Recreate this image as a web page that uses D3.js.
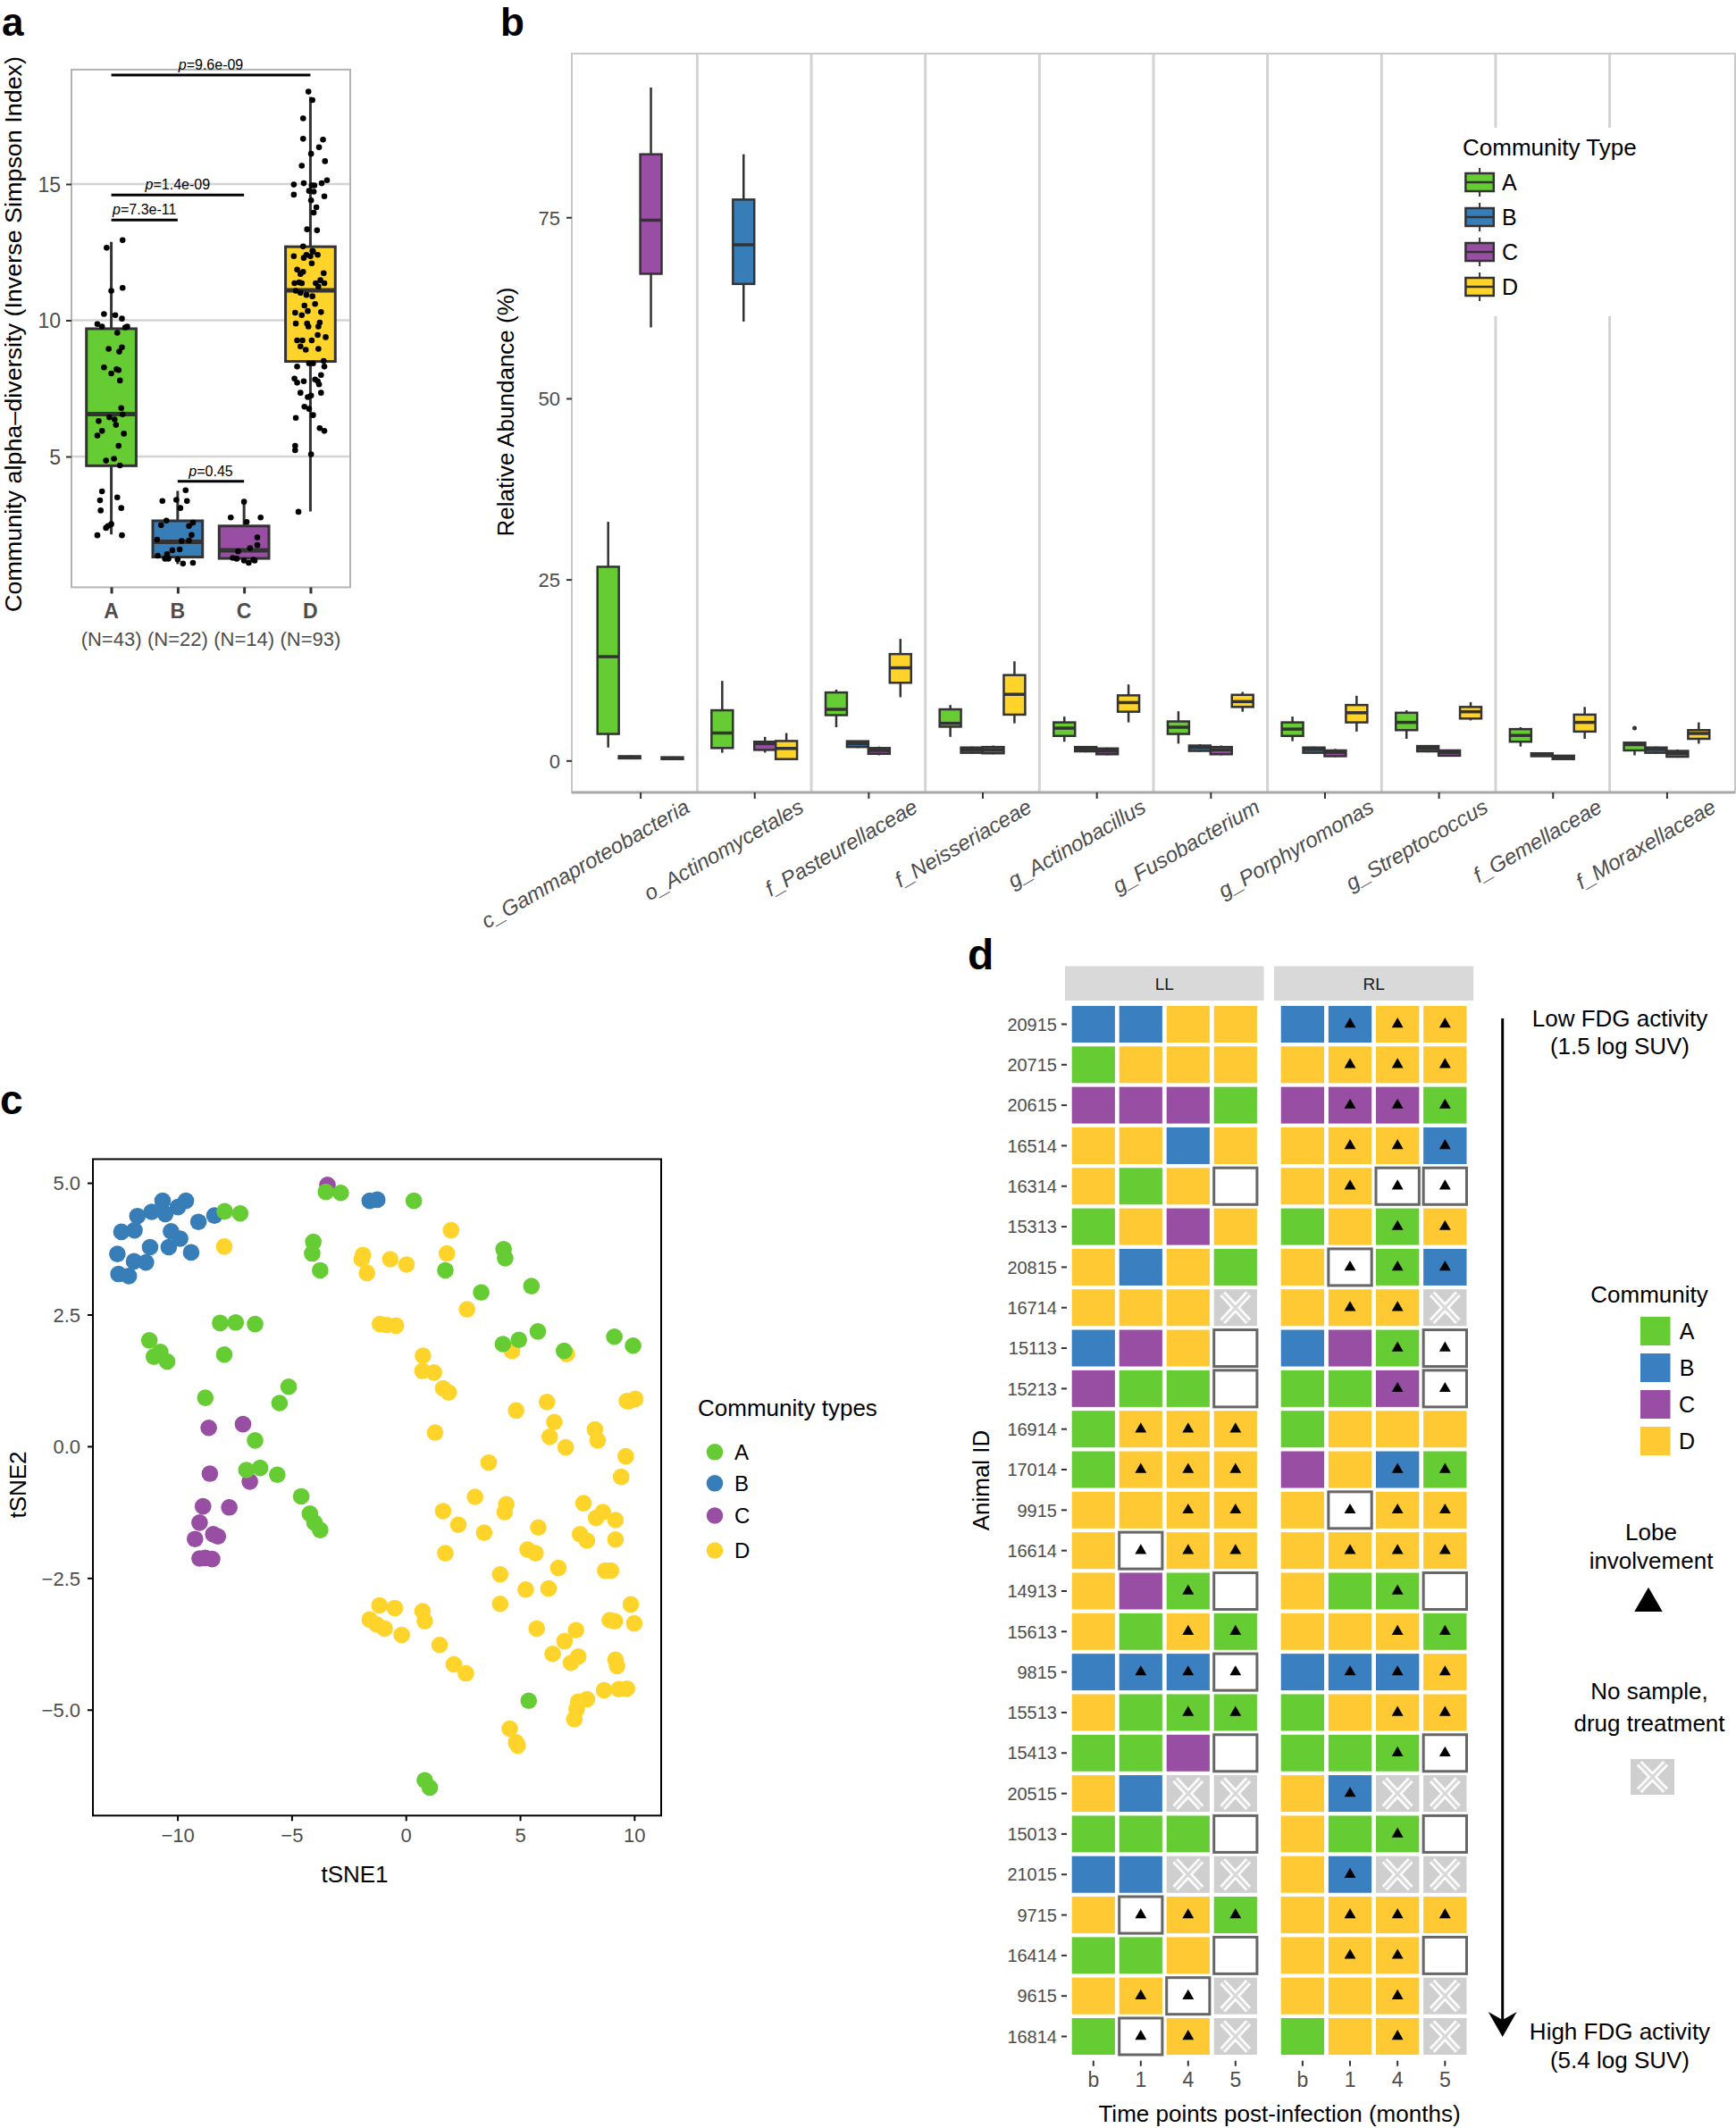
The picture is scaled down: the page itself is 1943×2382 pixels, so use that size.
<!DOCTYPE html>
<html><head><meta charset="utf-8">
<script src="https://cdn.jsdelivr.net/npm/d3@7"></script>
<style>
body{margin:0;background:#fff}
svg{display:block;font-family:"Liberation Sans",Arial,Helvetica,sans-serif}
</style>
</head><body>
<svg id="fig" width="1943" height="2382"></svg>
<script>
// ================= DATA =================
// ---- Panel a: alpha diversity ----
const aGroups = ["A","B","C","D"];
const aNLabels = ["(N=43)","(N=22)","(N=14)","(N=93)"];
const aLow  = [2.14, 1.05, 1.10, 2.98];
const aQ1   = [4.66, 1.31, 1.26, 8.49];
const aMed  = [6.56, 1.87, 1.56, 11.10];
const aQ3   = [9.69, 2.64, 2.45, 12.70];
const aHigh = [12.88, 3.74, 3.38, 18.20];
const aGridTicks = [5, 10, 15];
// jittered points: [x-offset in category units, value]
const aPointsA = [[-0.07,12.66],[0.17,12.94],[0.0,11.08],[0.17,11.19],[-0.11,10.23],[0.06,10.19],[0.16,10.06],[-0.21,9.86],[-0.14,9.77],[0.21,9.74],[0.24,9.77],[0.09,9.54],[-0.04,8.95],[0.16,9.01],[-0.11,8.27],[0.0,8.05],[0.08,8.20],[0.11,8.17],[0.13,7.79],[0.15,6.78],[-0.03,6.44],[0.17,6.55],[-0.19,6.30],[0.07,6.16],[-0.14,5.94],[-0.21,5.77],[0.19,5.84],[0.11,5.39],[-0.08,4.85],[0.04,4.92],[0.13,4.67],[-0.14,3.72],[0.09,3.50],[-0.17,3.39],[0.15,3.11],[-0.16,3.02],[0.0,2.52],[-0.05,2.45],[-0.08,2.38],[-0.21,2.11],[0.16,2.11],[0.05,6.36],[0.12,8.85]];
const aPointsB = [[-0.23,3.37],[-0.02,3.41],[0.12,3.76],[0.14,3.37],[0.04,3.11],[-0.25,2.48],[-0.17,2.65],[0.23,2.57],[0.17,2.45],[0.21,2.12],[-0.31,1.95],[0.06,1.90],[0.17,1.92],[-0.08,1.56],[-0.16,1.42],[0.03,1.59],[-0.19,1.25],[-0.14,1.25],[0.0,1.22],[0.08,1.07],[0.23,1.10],[-0.30,1.36]];
const aPointsC = [[0.0,3.34],[-0.2,2.76],[0.25,2.76],[0.04,2.60],[0.2,2.03],[0.2,1.75],[0.09,1.64],[-0.09,1.52],[-0.17,1.28],[-0.11,1.25],[0.0,1.18],[0.07,1.10],[0.16,1.18],[0.14,1.21]];
const aPointsD = [[-0.03,18.39],[0.03,18.08],[-0.11,17.41],[-0.11,16.66],[0.19,16.63],[0.13,16.35],[0.01,16.11],[0.22,15.84],[-0.13,15.67],[0.25,15.14],[-0.25,14.98],[-0.1,15.03],[0.02,14.95],[0.06,14.95],[0.17,15.03],[-0.02,14.75],[-0.25,14.61],[0.21,14.55],[0.01,14.40],[0.09,14.15],[0.05,13.95],[-0.05,13.34],[0.1,13.30],[-0.11,12.71],[0.04,12.52],[-0.25,12.35],[-0.1,12.29],[-0.06,12.40],[0.0,12.35],[0.02,12.09],[0.11,12.40],[0.2,11.73],[-0.11,11.78],[-0.24,11.36],[-0.17,11.39],[-0.13,11.36],[0.08,11.36],[0.15,11.47],[0.21,11.36],[-0.22,11.08],[-0.15,11.01],[-0.06,10.93],[0.03,10.88],[-0.09,10.54],[-0.04,10.34],[-0.23,10.28],[-0.13,10.19],[0.14,9.92],[-0.22,9.88],[0.12,9.77],[-0.03,9.77],[0.23,9.38],[0.11,9.46],[-0.2,9.26],[-0.12,9.26],[0.02,9.26],[-0.15,9.04],[-0.07,8.92],[0.12,8.95],[0.2,8.51],[-0.02,8.42],[0.04,8.42],[-0.24,7.86],[-0.2,7.71],[-0.1,7.76],[0.16,7.99],[0.13,7.65],[0.11,7.76],[-0.15,7.34],[0.16,7.34],[-0.04,7.18],[0.01,7.24],[-0.09,6.83],[-0.02,6.75],[0.04,6.52],[-0.22,6.42],[0.14,6.04],[0.21,5.94],[-0.23,5.39],[-0.23,5.23],[0.01,5.08],[-0.18,2.97],[-0.15,11.70],[0.07,10.60],[-0.05,9.88],[0.16,10.30],[-0.2,11.86],[0.12,11.24],[0.03,12.55],[0.21,8.30],[-0.2,8.30],[0.07,7.83],[0.05,14.72]];
const aBrackets = [
  {from:"A", to:"D", y:19.0, p:"=9.6e-09"},
  {from:"A", to:"C", y:14.6, p:"=1.4e-09"},
  {from:"A", to:"B", y:13.68, p:"=7.3e-11"},
  {from:"B", to:"C", y:4.09, p:"=0.45"}
];

// ---- Panel b: relative abundance by taxon ----
const bTaxa = ["c_Gammaproteobacteria","o_Actinomycetales","f_Pasteurellaceae","f_Neisseriaceae","g_Actinobacillus","g_Fusobacterium","g_Porphyromonas","g_Streptococcus","f_Gemellaceae","f_Moraxellaceae"];
const bYTicks = [0, 25, 50, 75];
// [lower whisker, Q1, median, Q3, upper whisker] for each taxon
const bStatsA = [[1.8,3.67,14.34,26.75,32.96],[1.07,1.73,3.8,6.94,11.0],[4.6,6.27,7.07,9.4,9.8],[3.27,4.67,5.14,7.07,7.67],[2.6,3.4,4.47,5.27,6.07],[2.33,3.67,4.6,5.4,6.8],[2.67,3.4,4.34,5.27,6.07],[3.0,4.2,5.27,6.6,6.94],[1.93,2.6,3.47,4.34,4.6],[0.73,1.4,2.2,2.47,2.6]];
const bStatsB = [[0.2,0.3,0.45,0.6,0.7],[60.6,65.8,71.2,77.45,83.7],[1.73,1.87,2.33,2.67,2.7],[0.93,1.07,1.47,1.8,1.93],[1.13,1.27,1.6,1.87,2.0],[1.2,1.33,1.8,2.07,2.27],[0.93,1.07,1.53,1.8,1.93],[1.13,1.27,1.67,2.0,2.13],[0.53,0.6,0.8,1.0,1.13],[0.93,1.07,1.53,1.8,1.93]];
const bStatsC = [[59.8,67.2,74.6,83.7,92.9],[1.1,1.47,2.33,2.6,3.27],[0.73,0.93,1.4,1.73,1.93],[0.87,1.0,1.47,1.87,2.07],[0.73,0.87,1.3,1.67,1.8],[0.73,0.87,1.47,1.87,2.07],[0.47,0.6,1.13,1.4,1.6],[0.53,0.67,1.13,1.4,1.53],[0.13,0.2,0.47,0.67,0.73],[0.4,0.53,1.0,1.33,1.53]];
const bStatsD = [[0.1,0.2,0.33,0.45,0.55],[0.07,0.2,1.67,2.7,3.8],[8.74,10.74,12.8,14.7,16.8],[5.14,6.34,9.14,11.8,13.7],[5.27,6.74,8.0,9.0,10.5],[6.74,7.4,8.14,9.07,9.47],[4.0,5.27,6.6,7.67,8.94],[5.54,5.8,6.74,7.4,8.07],[3.0,4.0,5.27,6.34,7.4],[2.33,3.0,3.74,4.2,5.27]];
const bOutliers = [{taxon:"f_Moraxellaceae", group:"A", value:4.47}];

// ---- Panel c: tSNE ----
const cXTicks = [-10,-5,0,5,10];
const cYTicks = [-5,-2.5,0,2.5,5];
const cPointsB = [[-12.63,3.65],[-12.58,3.27],[-12.13,3.23],[-11.9,3.51],[-11.38,3.49],[-12.45,4.07],[-11.88,4.10],[-11.2,3.78],[-11.75,4.37],[-11.13,4.45],[-10.65,4.66],[-10.53,4.41],[-10.28,4.08],[-10.38,3.78],[-9.88,3.94],[-9.98,4.54],[-9.63,4.66],[-9.4,3.68],[-9.08,4.26],[-8.38,4.38],[-1.58,4.66],[-1.25,4.68]];
const cPointsC = [[-3.43,4.96],[-8.63,0.35],[-7.13,0.42],[-8.58,-0.52],[-6.83,-0.67],[-8.88,-1.14],[-7.73,-1.16],[-9.03,-1.45],[-8.43,-1.67],[-8.23,-1.71],[-9.23,-1.76],[-9.03,-2.13],[-8.78,-2.12],[-8.48,-2.14]];
const cPointsD = [[-7.95,3.79],[-1.88,3.63],[-1.93,3.55],[-1.7,3.29],[-0.68,3.55],[0.03,3.45],[1.98,4.10],[1.8,3.66],[2.68,2.60],[-1.13,2.32],[-0.83,2.30],[-0.43,2.29],[0.75,1.72],[0.73,1.43],[1.23,1.40],[1.63,1.10],[1.88,1.02],[4.65,1.81],[7.05,1.75],[4.83,0.68],[1.28,0.26],[6.18,0.84],[6.5,0.46],[6.3,0.18],[7.0,-0.02],[8.28,0.32],[8.4,0.11],[9.75,0.85],[10.05,0.90],[9.63,-0.19],[9.43,-0.58],[3.63,-0.31],[3.03,-0.96],[4.4,-1.1],[4.33,-1.25],[1.63,-1.23],[2.3,-1.49],[3.43,-1.64],[5.8,-1.54],[7.78,-1.08],[8.63,-1.25],[8.33,-1.36],[9.18,-1.4],[7.63,-1.67],[7.93,-1.79],[9.18,-1.77],[1.73,-2.03],[5.33,-1.96],[5.68,-2.03],[6.68,-2.31],[4.13,-2.43],[8.73,-2.36],[8.98,-2.36],[5.25,-2.72],[6.25,-2.70],[4.13,-2.99],[-1.15,-3.02],[-0.48,-3.07],[-1.58,-3.29],[-1.28,-3.38],[-0.93,-3.46],[-0.18,-3.58],[0.73,-3.13],[0.83,-3.32],[1.48,-3.77],[2.1,-4.14],[2.63,-4.31],[5.73,-3.46],[7.45,-3.49],[6.95,-3.70],[6.43,-3.94],[7.23,-4.11],[7.55,-3.99],[9.15,-3.32],[8.93,-3.30],[9.85,-3.00],[10.0,-3.36],[9.18,-4.05],[9.25,-4.17],[8.68,-4.63],[9.33,-4.61],[9.68,-4.60],[7.93,-4.80],[7.55,-4.85],[7.48,-4.99],[7.38,-5.18],[4.55,-5.36],[4.83,-5.62],[4.9,-5.68],[9.68,0.86]];
const cPointsA = [[-7.93,4.46],[-7.25,4.42],[-3.5,4.83],[-2.85,4.81],[0.35,4.66],[-4.05,3.88],[-4.1,3.66],[-3.75,3.34],[1.73,3.34],[4.28,3.74],[4.35,3.57],[5.5,3.04],[3.3,2.92],[5.78,2.18],[4.25,1.94],[4.95,2.02],[6.93,1.81],[9.13,2.08],[9.95,1.91],[-8.13,2.34],[-7.45,2.35],[-6.6,2.32],[-11.23,2.01],[-11.03,1.70],[-10.75,1.79],[-10.45,1.61],[-7.95,1.74],[-5.13,1.13],[-5.53,0.82],[-8.78,0.92],[-6.6,0.11],[-6.98,-0.45],[-6.38,-0.41],[-5.63,-0.54],[-4.58,-0.95],[-4.2,-1.28],[-4.0,-1.45],[-3.75,-1.59],[5.38,-4.83],[0.83,-6.34],[1.05,-6.48]];

// ---- Panel d: community per animal / lobe / time ----
const dTimes = ["b","1","4","5"];
const dIDs = ["20915","20715","20615","16514","16314","15313","20815","16714","15113","15213","16914","17014","9915","16614","14913","15613","9815","15513","15413","20515","15013","21015","9715","16414","9615","16814"];
// community codes: A-D, N = no community (outlined white), X = no sample / drug treatment
const dLLComm = ["BBDD","ADDD","CCCA","DDBD","DADN","ADCD","DBDA","DDDX","BCDN","CAAN","ADDD","ADDD","DDDD","DNDD","DCAN","DADA","BBBN","DAAA","AACN","DBXX","AAAN","BBXX","DNDA","AADN","DDNX","ANDX"];
const dLLLobe = ["0000","0000","0000","0000","0000","0000","0000","0000","0000","0000","0111","0111","0011","0111","0010","0011","0111","0011","0000","0000","0000","0000","0111","0000","0110","0110"];
const dRLComm = ["BBDD","DDDD","CCCA","DDDB","DDNN","ADAD","DNAB","DDDX","BCAN","AACN","ADDD","CDBA","DNDD","DDDD","DAAN","DDDA","BBBD","ADDD","AAAN","DBXX","DAAN","DBXX","DDDD","DDDN","DDDX","ADDX"];
const dRLLobe = ["0111","0111","0111","0111","0111","0011","0111","0110","0011","0011","0000","0011","0111","0111","0010","0011","0111","0011","0011","0100","0010","0100","0111","0110","0010","0010"];
const dLegendComm = ["A","B","C","D"];

// ================= DRAWING =================
const FONT = '"Liberation Sans", Arial, Helvetica, sans-serif';
const COL = {A:"#66cc33", B:"#377eb8", C:"#984ea3", D:"#ffd42a"};
const COLD = {A:"#66cc33", B:"#3a7fbf", C:"#984ea3", D:"#ffc933"};
const svg = d3.select("#fig");

function styleAxis(g, size, color){
  g.attr("font-family", FONT);
  g.select(".domain").remove();
  g.selectAll(".tick line").attr("stroke","#333").attr("stroke-width",2);
  g.selectAll(".tick text").attr("font-size",size).attr("fill",color||"#4d4d4d").attr("font-family",FONT);
}
function label(txt,x,y,size,opts={}){
  const t = svg.append("text").attr("x",x).attr("y",y).attr("font-size",size).text(txt)
    .attr("font-family",FONT).attr("fill",opts.fill||"#000");
  if(opts.anchor) t.attr("text-anchor",opts.anchor);
  if(opts.weight) t.attr("font-weight",opts.weight);
  if(opts.style) t.attr("font-style",opts.style);
  if(opts.rotate!==undefined) t.attr("x",null).attr("y",null).attr("transform",`translate(${x},${y}) rotate(${opts.rotate})`);
  return t;
}

// ---------- Panel a ----------
(function(){
  const L=80,R=392,T=77.9,B=657.4;
  const x = d3.scalePoint().domain(aGroups).range([L,R]).padding(0.6);
  const y = d3.scaleLinear().domain([0.2,19.2]).range([B,T]);
  const step = x.step(), bw = 0.75*step;
  const g = svg.append("g");
  g.selectAll(".grid").data(aGridTicks).join("line")
    .attr("x1",L).attr("x2",R).attr("y1",d=>y(d)).attr("y2",d=>y(d))
    .attr("stroke","#d4d4d4").attr("stroke-width",2.5);
  g.append("rect").attr("x",L).attr("y",T).attr("width",R-L).attr("height",B-T)
    .attr("fill","none").attr("stroke","#b3b3b3").attr("stroke-width",2);
  const ay = g.append("g").attr("transform",`translate(${L},0)`)
    .call(d3.axisLeft(y).tickValues(aGridTicks).tickSize(6).tickPadding(6));
  styleAxis(ay,23);
  ay.selectAll(".tick text").attr("dy","0.36em");
  const ax = g.append("g").attr("transform",`translate(0,${B})`)
    .call(d3.axisBottom(x).tickSize(7).tickFormat(""));
  styleAxis(ax,23);
  ax.selectAll(".tick line").attr("stroke-width",3);
  // boxes
  aGroups.forEach((k,i)=>{
    const cx = x(k);
    g.append("line").attr("x1",cx).attr("x2",cx).attr("y1",y(aLow[i])).attr("y2",y(aHigh[i]))
      .attr("stroke","#333").attr("stroke-width",3);
    g.append("rect").attr("x",cx-bw/2).attr("width",bw).attr("y",y(aQ3[i])).attr("height",y(aQ1[i])-y(aQ3[i]))
      .attr("fill",COL[k]).attr("stroke","#333").attr("stroke-width",3);
    g.append("line").attr("x1",cx-bw/2).attr("x2",cx+bw/2).attr("y1",y(aMed[i])).attr("y2",y(aMed[i]))
      .attr("stroke","#333").attr("stroke-width",5);
  });
  const pts = {A:aPointsA,B:aPointsB,C:aPointsC,D:aPointsD};
  aGroups.forEach(k=>{
    g.selectAll(null).data(pts[k]).join("circle")
      .attr("cx",d=>x(k)+d[0]*step).attr("cy",d=>y(d[1])).attr("r",3.3).attr("fill","#000");
  });
  // brackets
  aBrackets.forEach(b=>{
    const yy = y(b.y);
    g.append("line").attr("x1",x(b.from)).attr("x2",x(b.to)).attr("y1",yy).attr("y2",yy)
      .attr("stroke","#000").attr("stroke-width",3);
    const t = g.append("text").attr("x",(x(b.from)+x(b.to))/2).attr("y",yy-6)
      .attr("text-anchor","middle").attr("font-size",16).attr("font-family",FONT);
    t.append("tspan").attr("font-style","italic").text("p");
    t.append("tspan").text(b.p);
  });
  aGroups.forEach((k,i)=>{
    label(k,x(k),692,23,{anchor:"middle",weight:"bold",fill:"#4d4d4d"});
    label(aNLabels[i],x(k),723,22,{anchor:"middle",fill:"#4d4d4d"});
  });
  label("Community alpha\u2013diversity (Inverse Simpson Index)",24,374,25,{anchor:"middle",rotate:-90})
    .attr("textLength",622).attr("lengthAdjust","spacingAndGlyphs");
  label("a",2,40,44,{weight:"bold"});
})();

// ---------- Panel b ----------
(function(){
  const L=640,R=1942,T=60,B=887;
  const x = d3.scalePoint().domain(bTaxa).range([L,R]).padding(0.6);
  const y = d3.scaleLinear().domain([-4.4,97.6]).range([B,T]);
  const step = x.step(), dodge = 0.1875*step;
  const g = svg.append("g");
  // separators
  const seps = d3.pairs(bTaxa).map(([a,b])=>(x(a)+x(b))/2);
  g.selectAll(".sep").data(seps).join("line")
    .attr("x1",d=>d).attr("x2",d=>d).attr("y1",T).attr("y2",B)
    .attr("stroke","#d3d3d3").attr("stroke-width",3);
  g.append("rect").attr("x",L).attr("y",T).attr("width",R-L).attr("height",B-T)
    .attr("fill","none").attr("stroke","#c8c8c8").attr("stroke-width",2);
  g.append("line").attr("x1",L).attr("x2",R).attr("y1",B).attr("y2",B).attr("stroke","#a8a8a8").attr("stroke-width",3);
  const ay = g.append("g").attr("transform",`translate(${L},0)`)
    .call(d3.axisLeft(y).tickValues(bYTicks).tickSize(6).tickPadding(7));
  styleAxis(ay,22);
  ay.selectAll(".tick text").attr("dy","0.36em");
  const ax = g.append("g").attr("transform",`translate(0,${B})`)
    .call(d3.axisBottom(x).tickSize(7).tickFormat(""));
  styleAxis(ax,22);
  // x labels
  bTaxa.forEach(t=>{
    label(t,x(t)+57,908,24,{anchor:"end",style:"italic",fill:"#4d4d4d",rotate:-30});
  });
  const stats = {A:bStatsA,B:bStatsB,C:bStatsC,D:bStatsD};
  const groups = ["A","B","C","D"];
  bTaxa.forEach((t,ti)=>{
    groups.forEach((k,gi)=>{
      const s = stats[k][ti];
      const cx = x(t)+(gi-1.5)*dodge, w = dodge;
      g.append("line").attr("x1",cx).attr("x2",cx).attr("y1",y(s[0])).attr("y2",y(s[4]))
        .attr("stroke","#333").attr("stroke-width",2.5);
      g.append("rect").attr("x",cx-w/2).attr("width",w).attr("y",y(s[3])).attr("height",Math.max(y(s[1])-y(s[3]),1.5))
        .attr("fill",COL[k]).attr("stroke","#333").attr("stroke-width",2.5);
      g.append("line").attr("x1",cx-w/2).attr("x2",cx+w/2).attr("y1",y(s[2])).attr("y2",y(s[2]))
        .attr("stroke","#333").attr("stroke-width",3.5);
    });
  });
  bOutliers.forEach(o=>{
    const gi = groups.indexOf(o.group);
    g.append("circle").attr("cx",x(o.taxon)+(gi-1.5)*dodge).attr("cy",y(o.value)).attr("r",2.5).attr("fill","#333");
  });
  label("Relative Abundance (%)",575,461,26,{anchor:"middle",rotate:-90});
  // legend
  g.append("rect").attr("x",1628).attr("y",143).attr("width",272).attr("height",211).attr("fill","#fff");
  label("Community Type",1637,174,26);
  groups.forEach((k,i)=>{
    const cy = 204+i*39, kx=1640.4, kw=31.4, kh=20;
    g.append("line").attr("x1",kx+kw/2).attr("x2",kx+kw/2).attr("y1",cy-16).attr("y2",cy+16).attr("stroke","#333").attr("stroke-width",2);
    g.append("rect").attr("x",kx).attr("y",cy-kh/2).attr("width",kw).attr("height",kh).attr("fill",COL[k]).attr("stroke","#333").attr("stroke-width",2.5);
    g.append("line").attr("x1",kx).attr("x2",kx+kw).attr("y1",cy).attr("y2",cy).attr("stroke","#333").attr("stroke-width",2.5);
    label(k,1681,cy+9,25);
  });
  label("b",560,40,44,{weight:"bold"});
})();

// ---------- Panel c ----------
(function(){
  const L=104,R=740,T=1297.5,B=2032.3;
  const x = d3.scaleLinear().domain([-13.7,11.18]).range([L,R]);
  const y = d3.scaleLinear().domain([-7.01,5.45]).range([B,T]);
  const g = svg.append("g");
  const fmt = d3.format(".1f");
  const ax = g.append("g").attr("transform",`translate(0,${B})`)
    .call(d3.axisBottom(x).tickValues(cXTicks).tickSize(6).tickPadding(8).tickFormat(d3.format("d")));
  styleAxis(ax,22);
  ax.selectAll(".tick line").attr("stroke","#000");
  const ay = g.append("g").attr("transform",`translate(${L},0)`)
    .call(d3.axisLeft(y).tickValues(cYTicks).tickSize(6).tickPadding(8).tickFormat(fmt));
  styleAxis(ay,22);
  ay.selectAll(".tick line").attr("stroke","#000");
  ay.selectAll(".tick text").attr("dy","0.36em");
  const order = [["B",cPointsB],["C",cPointsC],["D",cPointsD],["A",cPointsA]];
  order.forEach(([k,pts])=>{
    g.selectAll(null).data(pts).join("circle")
      .attr("cx",d=>x(d[0])).attr("cy",d=>y(d[1])).attr("r",9.3).attr("fill",COL[k]);
  });
  g.append("rect").attr("x",L).attr("y",T).attr("width",R-L).attr("height",B-T)
    .attr("fill","none").attr("stroke","#000").attr("stroke-width",2);
  label("tSNE1",(L+R)/2-25,2107,26,{anchor:"middle"});
  label("tSNE2",29,1662,26,{anchor:"middle",rotate:-90});
  label("Community types",781,1585,26);
  ["A","B","C","D"].forEach((k,i)=>{
    const cy = [1625.3,1660.3,1696.5,1735.5][i];
    g.append("circle").attr("cx",800).attr("cy",cy).attr("r",9.3).attr("fill",COL[k]);
    label(k,822,cy+8.5,24);
  });
  label("c",0,1247,46,{weight:"bold"});
})();

// ---------- Panel d ----------
(function(){
  const T=1119.3,B=2306.7;
  const y = d3.scaleBand().domain(dIDs).range([T,B]).paddingOuter(0.1).paddingInner(0);
  const panels = [
    {name:"LL", range:[1192,1414.6], comm:dLLComm, lobe:dLLLobe},
    {name:"RL", range:[1426,1649.2], comm:dRLComm, lobe:dRLLobe}
  ];
  const g = svg.append("g");
  const gapX = 4.8, gapY = 4.3;
  const tri = d3.symbol().type(d3.symbolTriangle).size(72)();
  function drawX(gg,x0,y0,w,h){
    gg.append("rect").attr("x",x0).attr("y",y0).attr("width",w).attr("height",h).attr("fill","#cfcfcf");
    const px=w*0.2, py=h*0.12;
    const segs = [[x0+px,y0+py,x0+w-px,y0+h-py],[x0+w-px,y0+py,x0+px,y0+h-py]];
    segs.forEach(l=>{
      gg.append("line").attr("x1",l[0]).attr("y1",l[1]).attr("x2",l[2]).attr("y2",l[3]).attr("stroke","#fff").attr("stroke-width",8);
    });
    segs.forEach(l=>{
      gg.append("line").attr("x1",l[0]).attr("y1",l[1]).attr("x2",l[2]).attr("y2",l[3]).attr("stroke","#d8d8d8").attr("stroke-width",3);
    });
  }
  panels.forEach(p=>{
    const x = d3.scaleBand().domain(dTimes).range(p.range).paddingOuter(0.1).paddingInner(0);
    // strip
    g.append("rect").attr("x",p.range[0]).attr("y",1081.5).attr("width",p.range[1]-p.range[0]).attr("height",38.5).attr("fill","#d9d9d9");
    label(p.name,(p.range[0]+p.range[1])/2,1108,19,{anchor:"middle",fill:"#1a1a1a"});
    dIDs.forEach((id,ri)=>{
      dTimes.forEach((t,ci)=>{
        const c = p.comm[ri][ci];
        const x0 = x(t)+gapX/2, y0 = y(id)+gapY/2, w = x.bandwidth()-gapX, h = y.bandwidth()-gapY;
        if(c==="X"){ drawX(g,x0,y0,w,h); }
        else if(c==="N"){
          g.append("rect").attr("x",x0).attr("y",y0).attr("width",w).attr("height",h)
            .attr("fill","#fff").attr("stroke","#666").attr("stroke-width",3);
        } else {
          g.append("rect").attr("x",x0).attr("y",y0).attr("width",w).attr("height",h).attr("fill",COLD[c]);
        }
        if(p.lobe[ri][ci]==="1"){
          g.append("path").attr("d",tri).attr("transform",`translate(${x(t)+x.bandwidth()/2},${y(id)+y.bandwidth()/2})`).attr("fill","#000");
        }
      });
    });
    const ax = g.append("g").attr("transform",`translate(0,${B})`)
      .call(d3.axisBottom(x).tickSize(6).tickPadding(7));
    styleAxis(ax,23);
  });
  const ay = g.append("g").attr("transform",`translate(1194,0)`)
    .call(d3.axisLeft(y).tickSize(6).tickPadding(5));
  styleAxis(ay,20);
  ay.selectAll(".tick text").attr("dy","0.36em");
  label("Animal ID",1107,1657,26,{anchor:"middle",rotate:-90});
  label("Time points post-infection (months)",1432,2375,26,{anchor:"middle"});
  label("d",1083,1085,48,{weight:"bold"});
  // arrow
  const ax0 = 1681.7;
  g.append("line").attr("x1",ax0).attr("x2",ax0).attr("y1",1140).attr("y2",2262).attr("stroke","#000").attr("stroke-width",3);
  g.append("path").attr("d",`M${ax0},2280 L${ax0-16},2252 L${ax0},2261 L${ax0+16},2252 Z`).attr("fill","#000");
  label("Low FDG activity",1813,1149,26,{anchor:"middle"});
  label("(1.5 log SUV)",1813,1180,26,{anchor:"middle"});
  label("High FDG activity",1813,2283,26,{anchor:"middle"});
  label("(5.4 log SUV)",1813,2315,26,{anchor:"middle"});
  // community legend
  label("Community",1846,1458,26,{anchor:"middle"});
  dLegendComm.forEach((k,i)=>{
    const cy = 1490 + i*41;
    g.append("rect").attr("x",1836).attr("y",cy-16).attr("width",33.5).attr("height",32).attr("fill",COLD[k]);
    label(k,1888,cy+9,25,{anchor:"middle"});
  });
  label("Lobe",1848,1724,26,{anchor:"middle"});
  label("involvement",1848,1756,26,{anchor:"middle"});
  g.append("path").attr("d",d3.symbol().type(d3.symbolTriangle).size(430)()).attr("transform","translate(1845,1795)").attr("fill","#000");
  label("No sample,",1846,1902,26,{anchor:"middle"});
  label("drug treatment",1846,1938,26,{anchor:"middle"});
  drawX(g,1825,1969,49,40);
})();
</script>
</body></html>
